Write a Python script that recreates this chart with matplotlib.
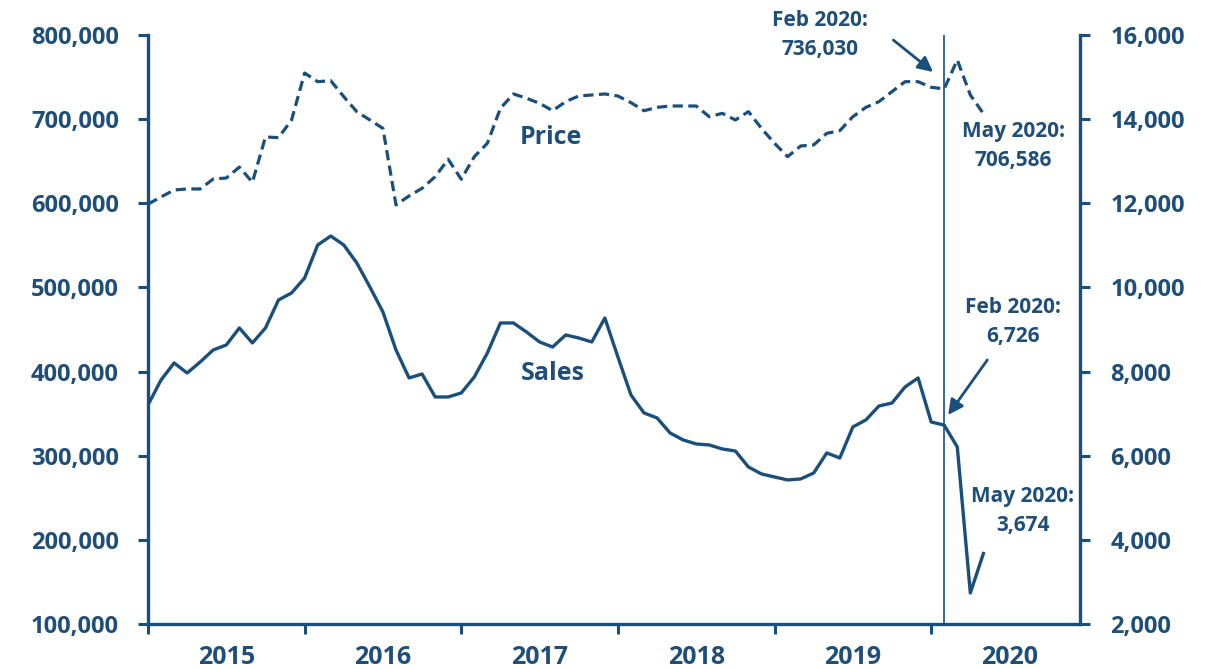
import matplotlib
matplotlib.use("Agg")
from matplotlib import pyplot as plt
import numpy as np

# monthly data, Jan 2015 .. May 2020
price = [599000, 607500, 615800, 617000, 617000, 628900, 630000, 643000, 625000, 678800,
         678000, 699000, 754800, 744500, 745700, 726700, 708800, 699000, 689000, 598000,
         608700, 617800, 631600, 652300, 628500, 655400, 671300, 712900, 729900, 724800,
         718800, 710000, 720800, 727500, 728700, 729900, 727500, 719600, 710000, 714000,
         715600, 715600, 715600, 702900, 706900, 699000, 708900, 689000, 671300, 655400,
         668100, 669300, 683100, 686300, 702900, 714000, 720800, 732700, 744500, 744500,
         737800, 736030, 770300, 728700, 706586]

sales = [7206, 7800, 8204, 7966, 8228, 8513, 8632, 9036, 8680, 9036,
         9702, 9868, 10224, 11008, 11222, 11008, 10580, 10010, 9416, 8513,
         7848, 7942, 7396, 7396, 7491, 7871, 8442, 9155, 9155, 8940,
         8703, 8584, 8870, 8798, 8703, 9273, 8347, 7443, 7016, 6897,
         6540, 6374, 6279, 6255, 6160, 6112, 5732, 5566, 5494, 5423,
         5447, 5589, 6065, 5946, 6683, 6850, 7182, 7253, 7634, 7848,
         6802, 6726, 6207, 2737, 3674]

years = ["2015", "2016", "2017", "2018", "2019", "2020"]
left_ticks = [100000, 200000, 300000, 400000, 500000, 600000, 700000, 800000]
right_ticks = [2000, 4000, 6000, 8000, 10000, 12000, 14000, 16000]

months = np.arange(len(price))
feb2020 = 61

blue = "#1B4F7B"
txt = "#1F4E79"
plt.rcParams['font.family'] = ['Open Sans', 'DejaVu Sans']

fig = plt.figure(figsize=(12.21, 6.69), dpi=100)
ax = fig.add_axes([0.1212, 0.0673, 0.8845 - 0.1212, 0.9477 - 0.0673])
ax2 = ax.twinx()

ax.plot(months, price, color=blue, lw=2.3, dashes=(3.2, 1.7), solid_capstyle='butt')
ax2.plot(months, sales, color=blue, lw=2.4)
ax.axvline(feb2020, color=blue, lw=1.2)

ax.set_xlim(0, 71.4)
ax.set_ylim(100000, 800000)
ax2.set_ylim(2000, 16000)

ax.set_yticks(left_ticks)
ax.set_yticklabels([f"{v:,}" for v in left_ticks])
ax2.set_yticks(right_ticks)
ax2.set_yticklabels([f"{v:,}" for v in right_ticks])

ax.set_xticks(np.arange(0, 61, 12))
ax.set_xticklabels([])
ax.set_xticks(np.arange(6, 72, 12), minor=True)
ax.set_xticklabels(years, minor=True)

for a in (ax, ax2):
    a.spines['top'].set_visible(False)
    for s in ('left', 'right', 'bottom'):
        a.spines[s].set_color(blue)
        a.spines[s].set_linewidth(2.4)
ax.spines['right'].set_visible(False)
ax2.spines['left'].set_visible(False)
ax2.spines['bottom'].set_visible(False)

ax.tick_params(axis='y', which='major', direction='out', length=7, width=2.2, color=blue,
               pad=14, labelsize=17, labelcolor=txt)
ax2.tick_params(axis='y', which='major', direction='out', length=7, width=2.2, color=blue,
                pad=15, labelsize=17, labelcolor=txt)
ax.tick_params(axis='x', which='major', direction='out', length=7, width=2.2, color=blue)
ax.tick_params(axis='x', which='minor', length=0, pad=15, labelsize=18, labelcolor=txt)
for lab in ax.get_yticklabels() + ax2.get_yticklabels() + ax.get_xticklabels(minor=True):
    lab.set_fontweight('bold')

ax.text(30.9, 677600, "Price", color=txt, fontsize=18, fontweight='bold', ha='center', va='center')
ax.text(31.0, 397100, "Sales", color=txt, fontsize=18, fontweight='bold', ha='center', va='center')

ann = dict(color=txt, fontsize=15, fontweight='bold', ha='center', va='center',
           linespacing=1.45)
arrow = dict(arrowstyle='-|>,head_length=0.9,head_width=0.45', color=blue, lw=2.0,
             shrinkA=0, shrinkB=0)
ax.text(51.5, 800000, "Feb 2020:\n736,030", clip_on=False, **ann)
ax.annotate("", xy=(60.15, 756000), xytext=(57.1, 794000), annotation_clip=False,
            arrowprops=arrow)
ax.text(66.3, 668100, "May 2020:\n706,586", **ann)
ax2.text(66.3, 9178, "Feb 2020:\n6,726", **ann)
ax2.annotate("", xy=(61.3, 6967), xytext=(64.3, 8275), arrowprops=arrow)
ax2.text(67.0, 4685, "May 2020:\n3,674", **ann)

fig.savefig("out.png", dpi=100)
